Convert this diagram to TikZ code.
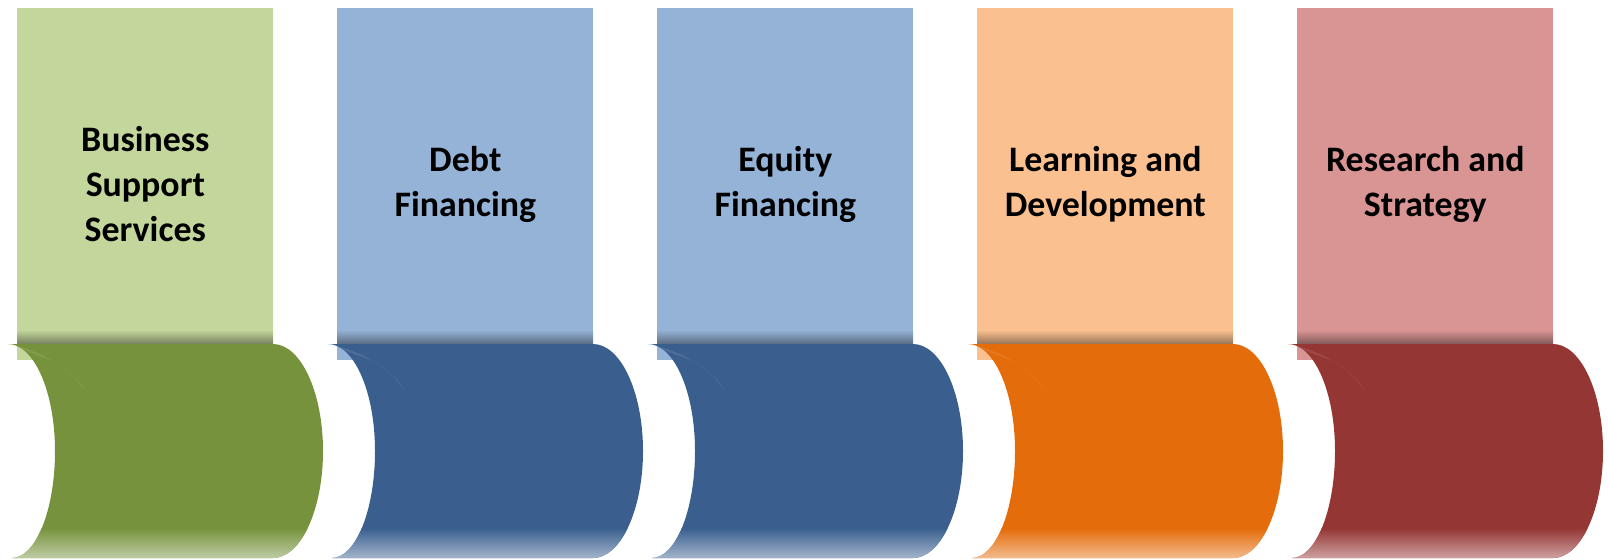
\documentclass[tikz,border=0pt]{standalone}
\usepackage{fontspec}
\setmainfont{Carlito}
\usetikzlibrary{positioning}
\definecolor{greenlt}{HTML}{C3D69B}
\definecolor{greendk}{HTML}{76923C}
\definecolor{bluelt}{HTML}{95B3D7}
\definecolor{bluedk}{HTML}{3A5F8F}
\definecolor{orangelt}{HTML}{FAC090}
\definecolor{orangedk}{HTML}{E46C0A}
\definecolor{redlt}{HTML}{D99594}
\definecolor{reddk}{HTML}{943634}
\tikzstyle{panel}=[rectangle, anchor=north west, inner sep=0pt, minimum width=6.4cm, minimum height=8.8cm, align=center, font=\bfseries\fontsize{25.5}{32}\selectfont]
\newcommand{\drumpath}{(8,344) -- (273,344) .. controls (300.6,344) and (323,391.9) .. (323,451) .. controls (323,510.1) and (300.6,558) .. (273,558) -- (12,558) .. controls (35.7,558) and (55,510.1) .. (55,451) .. controls (55,391.9) and (34,344) .. (8,344) -- cycle}

\begin{document}
\begin{tikzpicture}[x=0.025cm, y=-0.025cm]
\useasboundingbox (0,0) rectangle (1608,559);
\foreach \i/\lt/\dk/\txt in {0/greenlt/greendk/{Business\\Support\\Services},
                             1/bluelt/bluedk/{Debt\\Financing},
                             2/bluelt/bluedk/{Equity\\Financing},
                             3/orangelt/orangedk/{Learning and\\Development},
                             4/redlt/reddk/{Research and\\Strategy}}
{
    \node[panel, fill=\lt] (panel\i) at (17+320*\i,8) {\txt};
    \begin{scope}[shift={(320*\i,0)}]
        % shadow cast by the drum on the panel
        \shade[top color=\lt, bottom color=\lt!60!black] (17,330) rectangle (273,344);
        \fill[\dk] \drumpath;
        \begin{scope}
            \clip \drumpath;
            \shade[top color=\dk, bottom color=\dk!45!white] (0,528) rectangle (330,559);
            \fill[\dk!80!white, opacity=0.5] (8,344) .. controls (45,352) and (70,368) .. (85,390) .. controls (70,372) and (60,362) .. (45,358) -- cycle;
        \end{scope}
    \end{scope}
}
\end{tikzpicture}
\end{document}
